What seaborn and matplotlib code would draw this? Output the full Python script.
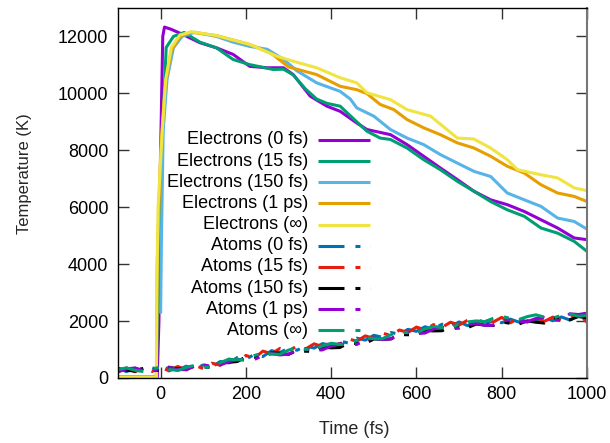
import numpy as np
import pandas as pd
import matplotlib
matplotlib.use("Agg")
import matplotlib.pyplot as plt
import seaborn as sns

# ---------------- data ----------------
# Electron temperatures (time in fs, temperature in K)
e0_t = [-100, -8, -4, 0, 5, 9, 25, 52, 92, 131, 170, 209, 249, 288, 311, 351, 390, 421,
        460, 484, 539, 578, 617, 656, 696, 735, 774, 813, 853, 892, 931, 970, 1000]
e0_T = [30, 30, 2000, 8000, 12000, 12330, 12250, 12070, 11780, 11600, 11370, 10950, 10900,
        10900, 10660, 9900, 9550, 9370, 8960, 8730, 8550, 8200, 7790, 7380, 6970, 6560,
        6260, 6090, 5850, 5560, 5270, 4920, 4860]

e15_t = [-100, -10, -7, 0, 13, 30, 55, 92, 131, 170, 209, 264, 288, 311, 340, 366, 390,
         421, 460, 484, 515, 539, 578, 617, 656, 696, 735, 774, 813, 853, 892, 931, 970, 1000]
e15_T = [30, 30, 3000, 7000, 11610, 12000, 12140, 11800, 11600, 11190, 11010, 10840, 10850,
         10650, 10150, 9800, 9650, 9550, 9000, 8670, 8430, 8380, 8080, 7670, 7320, 6910,
         6560, 6200, 5910, 5680, 5270, 5090, 4800, 4450]

e150_t = [0, 2, 6, 15, 30, 50, 80, 131, 170, 209, 250, 288, 319, 366, 421, 445, 460, 500,
          539, 578, 617, 656, 696, 735, 774, 813, 853, 892, 931, 970, 1000]
e150_T = [2300, 5000, 8700, 10500, 11600, 12000, 12150, 12000, 11800, 11650, 11550, 11200,
          10800, 10370, 10070, 9800, 9490, 9200, 8730, 8430, 8200, 7850, 7550, 7260, 7080,
          6500, 6260, 6030, 5620, 5500, 5230]

e1ps_t = [-100, -10, -8, 0, 10, 25, 45, 70, 131, 209, 260, 300, 366, 421, 460, 484, 515,
          547, 578, 617, 656, 696, 735, 774, 813, 853, 892, 931, 970, 1000]
e1ps_T = [30, 30, 4000, 8000, 10200, 11500, 12000, 12150, 12030, 11720, 11400, 10930, 10660,
          10250, 10130, 9990, 9610, 9430, 9080, 8790, 8550, 8260, 8080, 7790, 7440, 7200,
          6790, 6500, 6380, 6200]

einf_t = [-100, -10, -9, -6, 4, 12, 25, 45, 72, 131, 209, 272, 311, 366, 421, 460, 484,
          539, 578, 633, 696, 734, 774, 813, 837, 892, 931, 970, 1000]
einf_T = [30, 30, 3000, 6000, 8730, 10500, 11610, 12050, 12165, 12030, 11720, 11310, 11130,
          10900, 10550, 10370, 10020, 9780, 9430, 9200, 8430, 8400, 8080, 7670, 7320, 7140,
          7030, 6680, 6580]

# Atom temperatures, sampled every 20 fs from -100 to 1000 fs
atom_t = list(range(-100, 1001, 20))
a0_T = [340, 225, 350, 235, 360, 250, 380, 275, 415, 315, 460, 390, 580, 530, 720, 660,
        830, 755, 960, 890, 1060, 975, 1130, 1050, 1210, 1130, 1300, 1230, 1400, 1330,
        1500, 1430, 1600, 1535, 1710, 1640, 1800, 1725, 1890, 1810, 1970, 1840, 1985, 1890,
        2035, 1940, 2070, 1965, 2100, 1990, 2120, 2010, 2145, 2035, 2170, 2150]
a15_T = [210, 355, 220, 365, 230, 380, 250, 405, 285, 445, 330, 520, 450, 660, 590, 790,
         700, 945, 850, 1040, 950, 1125, 1020, 1200, 1100, 1280, 1190, 1380, 1290, 1480,
         1390, 1580, 1490, 1685, 1600, 1790, 1690, 1875, 1780, 1960, 1860, 2030, 1915, 2080,
         1965, 2130, 1940, 2095, 1965, 2120, 1990, 2140, 2015, 2170, 2260, 1960]
a150_T = [330, 275, 240, 345, 290, 260, 370, 325, 305, 425, 390, 370, 540, 550, 580, 740,
          730, 735, 880, 870, 830, 965, 940, 940, 1080, 1060, 1070, 1220, 1210, 1220, 1370,
          1360, 1370, 1525, 1520, 1530, 1670, 1655, 1660, 1800, 1780, 1770, 1895, 1860, 1845,
          1970, 1922, 1895, 2007, 1960, 1930, 2122, 2075, 2047, 2160, 2110]
a1ps_T = [220, 325, 350, 255, 240, 350, 380, 295, 295, 415, 460, 410, 460, 570, 660, 620,
          650, 795, 860, 810, 840, 975, 1030, 970, 990, 1130, 1200, 1150, 1180, 1330, 1400,
          1350, 1380, 1535, 1610, 1560, 1580, 1725, 1790, 1730, 1750, 1880, 1925, 1850, 1855,
          1980, 2072, 1985, 1977, 2090, 2120, 2032, 2025, 2257, 2230, 2280]
ainf_T = [300, 355, 270, 225, 320, 380, 300, 265, 375, 445, 380, 380, 540, 660, 640, 650,
          790, 885, 840, 840, 980, 1065, 1010, 1000, 1130, 1220, 1180, 1180, 1320, 1420, 1380,
          1380, 1520, 1625, 1590, 1590, 1720, 1815, 1770, 1760, 1890, 1970, 2005, 1980, 2095,
          2170, 2092, 2055, 2157, 2220, 2140, 2102, 2205, 2247, 2170, 2200]

labels_e = ["Electrons (0 fs)", "Electrons (15 fs)", "Electrons (150 fs)",
            "Electrons (1 ps)", "Electrons (\u221e)"]
labels_a = ["Atoms (0 fs)", "Atoms (15 fs)", "Atoms (150 fs)",
            "Atoms (1 ps)", "Atoms (\u221e)"]
colors_e = ["#9400D3", "#009E73", "#56B4E9", "#E69F00", "#F0E442"]
colors_a = ["#0072B2", "#E51E10", "#000000", "#9400D3", "#009E73"]

x_ticks = [0, 200, 400, 600, 800, 1000]
y_ticks = [0, 2000, 4000, 6000, 8000, 10000, 12000]

# ---------------- style ----------------
sns.set_theme(style="ticks")
plt.rcParams["font.family"] = ["Liberation Sans", "DejaVu Sans"]
plt.rcParams["lines.scale_dashes"] = False

W, H = 610, 443
fig = plt.figure(figsize=(W / 100, H / 100), dpi=100)
ax = fig.add_axes([118 / W, 1 - 378 / H, 469 / W, 370 / H])

LW = 2.2
DASH = (0, (18.7, 7.9, 3.6, 7.2))

elec = [(e0_t, e0_T), (e15_t, e15_T), (e150_t, e150_T), (e1ps_t, e1ps_T), (einf_t, einf_T)]
atoms = [a0_T, a15_T, a150_T, a1ps_T, ainf_T]

for (t, T), c in zip(elec, colors_e):
    df = pd.DataFrame({"t": t, "T": T})
    sns.lineplot(data=df, x="t", y="T", ax=ax, color=c, lw=LW,
                 estimator=None, sort=False, legend=False)

for T, c in zip(atoms, colors_a):
    df = pd.DataFrame({"t": atom_t, "T": T})
    sns.lineplot(data=df, x="t", y="T", ax=ax, color=c, lw=LW,
                 linestyle=DASH, estimator=None, sort=False, legend=False)

ax.set_xlim(-100, 1000)
ax.set_ylim(0, 13000)
ax.set_xticks(x_ticks)
ax.set_yticks(y_ticks)

for s in ax.spines.values():
    s.set_color("black")
    s.set_linewidth(1.0)
ax.spines["right"].set_color("#777777")
ax.spines["right"].set_linewidth(1.5)

ax.tick_params(direction="in", length=8, width=1, color="#333333",
               top=True, right=True, labelsize=13, colors="black")
ax.tick_params(axis="y", pad=7)
ax.tick_params(axis="x", pad=6)

ax.set_xlabel("Time (fs)", fontsize=13, va="top")
ax.xaxis.set_label_coords(0.503, -0.117)
ax.set_ylabel("Temperature (K)", fontsize=12, va="center")
ax.yaxis.set_label_coords(-0.199, 0.553)

# key: right-aligned text followed by a line sample
x_txt = (308 - 118) / 469
x0_line = (318 - 118) / 469
x1_line = (370 - 118) / 469
row0 = 140
step = 21.15
for i, (lab, c, ls) in enumerate(
        [(l, c, "-") for l, c in zip(labels_e, colors_e)] +
        [(l, c, DASH) for l, c in zip(labels_a, colors_a)]):
    yp = (378 - (row0 + i * step)) / 370
    ax.text(x_txt, yp, lab, transform=ax.transAxes, ha="right", va="center",
            fontsize=13, color="black")
    ax.plot([x0_line, x1_line], [yp, yp], transform=ax.transAxes, color=c,
            lw=LW, linestyle=ls, solid_capstyle="butt")

fig.savefig("out.png", dpi=100)
